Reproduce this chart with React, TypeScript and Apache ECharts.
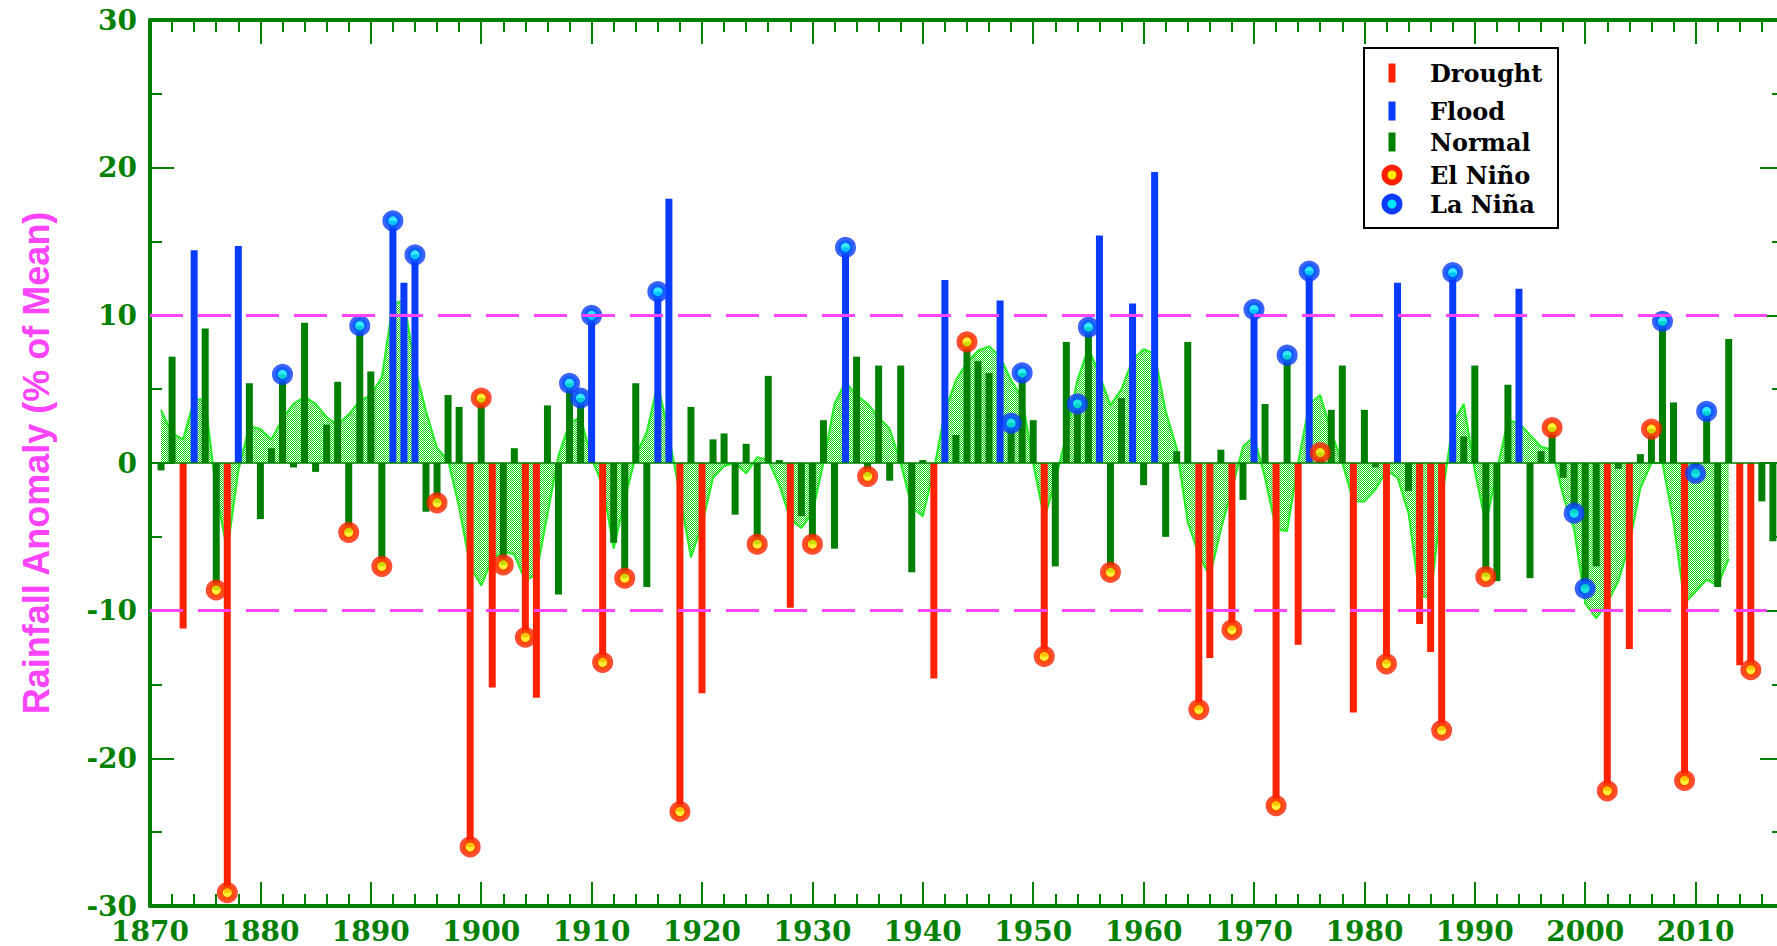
import React, { useEffect, useRef } from "react";
import * as echarts from "echarts";

// All-India summer monsoon rainfall anomaly (% of long-term mean), one value per year from 1871.
const START_YEAR = 1871;
const anomaly = [
  // 1871-1880
  -0.5, 7.2, -11.2, 14.4, 9.1, -8.6, -29.1, 14.7, 5.4, -3.8,
  // 1881-1890
  1.0, 6.0, -0.3, 9.5, -0.6, 2.6, 5.5, -4.7, 9.3, 6.2,
  // 1891-1900
  -7.0, 16.4, 12.2, 14.1, -3.3, -2.7, 4.6, 3.8, -26.0, 4.4,
  // 1901-1910
  -15.2, -6.9, 1.0, -11.8, -15.9, 3.9, -8.9, 5.4, 4.4, 10.0,
  // 1911-1920
  -13.5, -5.4, -7.8, 5.4, -8.4, 11.6, 17.9, -23.6, 3.8, -15.6,
  // 1921-1930
  1.6, 2.0, -3.5, 1.3, -5.5, 5.9, 0.2, -9.8, -3.6, -5.5,
  // 1931-1940
  2.9, -5.8, 14.6, 7.2, -0.9, 6.6, -1.2, 6.6, -7.4, 0.2,
  // 1941-1950
  -14.6, 12.4, 1.9, 8.2, 6.9, 6.1, 11.0, 2.7, 6.1, 2.9,
  // 1951-1960
  -13.1, -7.0, 8.2, 4.0, 9.2, 15.4, -7.4, 4.4, 10.8, -1.5,
  // 1961-1970
  19.7, -5.0, 0.8, 8.2, -16.7, -13.2, 0.9, -11.3, -2.5, 10.4,
  // 1971-1980
  4.0, -23.2, 7.3, -12.3, 13.0, 0.7, 3.6, 6.6, -16.9, 3.6,
  // 1981-1990
  -0.3, -13.6, 12.2, -1.9, -10.9, -12.8, -18.1, 12.9, 1.8, 6.6,
  // 1991-2000
  -7.7, -8.0, 5.3, 11.8, -7.8, 0.8, 2.4, -1.0, -3.4, -8.5,
  // 2001-2010
  -7.0, -22.2, -0.4, -12.6, 0.6, 2.3, 9.6, 4.1, -21.5, -0.7,
  // 2011-2017
  3.5, -8.4, 8.4, -13.7, -14.0, -2.6, -5.3,
];

const droughtYears = [
  1873, 1877, 1899, 1901, 1904, 1905, 1911, 1918, 1920, 1928, 1941, 1951, 1965, 1966,
  1968, 1972, 1974, 1979, 1982, 1985, 1986, 1987, 2002, 2004, 2009, 2014, 2015,
];
const floodYears = [
  1874, 1878, 1892, 1893, 1894, 1910, 1916, 1917, 1933, 1942, 1947, 1956, 1959, 1961,
  1970, 1975, 1983, 1988, 1994,
];
const elNinoYears = [
  1876, 1877, 1888, 1891, 1896, 1899, 1900, 1902, 1904, 1911, 1913, 1918, 1925, 1930,
  1935, 1944, 1951, 1957, 1965, 1968, 1972, 1976, 1982, 1987, 1991, 1997, 2002, 2006,
  2009, 2015,
];
const laNinaYears = [
  1882, 1889, 1892, 1894, 1908, 1909, 1910, 1916, 1933, 1948, 1949, 1954, 1955, 1970,
  1973, 1975, 1988, 1999, 2000, 2007, 2010, 2011,
];

// Low-pass filtered anomaly (shaded curve), 1871-2013.
const SMOOTH_START = 1871;
const smoothed = [
  3.6, 2.0, 1.6, 4.3, 4.3, -2.0, -6.0, -0.5, 2.5, 2.3,
  1.6, 3.0, 4.0, 4.5, 4.0, 3.1, 2.6, 3.3, 4.2, 4.6,
  5.8, 10.8, 11.0, 6.5, 3.5, 1.0, 0.2, -3.0, -7.0, -8.3,
  -6.5, -6.0, -6.2, -8.0, -7.5, -3.5, 0.5, 2.7, 3.1, 0.3,
  -1.5, -5.8, -2.5, 0.5, 2.1, 5.4, 1.9, -2.2, -6.4, -4.2,
  -1.0, -0.2, 0.0, -0.7, 0.4, 0.2, -1.5, -3.8, -4.4, -3.4,
  0.0, 4.0, 5.5, 4.6, 4.0, 3.1, 2.3, 0.0, -3.0, -3.6,
  -0.5, 3.5, 5.6, 6.8, 7.6, 7.9, 7.2, 5.6, 4.4, 0.0,
  -3.8, -1.2, 1.9, 5.6, 7.8, 6.0, 3.9, 5.0, 7.0, 7.7,
  7.4, 3.5, 1.0, -4.0, -6.2, -7.7, -4.5, -1.8, 1.1, 1.8,
  -1.0, -4.5, -4.6, 0.0, 4.0, 4.6, 2.1, 0.0, -2.6, -2.6,
  -1.8, -0.5, -1.0, -3.4, -9.0, -9.1, -2.6, 2.7, 4.0, -0.5,
  -4.2, -0.5, 2.9, 2.7, 1.9, 1.1, 0.9, -2.2, -4.5, -9.5,
  -10.5, -9.5, -8.0, -5.5, -1.7, 0.0, 0.0, -4.0, -9.5, -8.7,
  -7.9, -8.3, -6.5,
];

const thresholds = [10, -10];
const legendLabels = ["Drought", "Flood", "Normal", "El Niño", "La Niña"];
const yAxisTitle = "Rainfall Anomaly (% of Mean)";

const AXIS_GREEN = "#008000";
const DROUGHT_RED = "#ff2200";
const FLOOD_BLUE = "#0a3cff";
const NORMAL_GREEN = "#008000";
const MAGENTA = "#ff44ff";
const NUM_FONT = "DejaVu Serif";

function makeHatch(): HTMLCanvasElement {
  const c = document.createElement("canvas");
  c.width = 2;
  c.height = 2;
  const ctx = c.getContext("2d")!;
  ctx.fillStyle = "#00d000";
  ctx.fillRect(0, 0, 1, 1);
  ctx.fillRect(1, 1, 1, 1);
  return c;
}

export default function App() {
  const ref = useRef<HTMLDivElement>(null);

  useEffect(() => {
    if (!ref.current) return;
    const chart = echarts.init(ref.current, undefined, { renderer: "svg" });

    const years = anomaly.map((_, i) => START_YEAR + i);
    const valueOf = (y: number) => anomaly[y - START_YEAR];
    const isDrought = (y: number) => droughtYears.includes(y);
    const isFlood = (y: number) => floodYears.includes(y);

    const droughtData = years.filter(isDrought).map((y) => [y, valueOf(y)]);
    const floodData = years.filter(isFlood).map((y) => [y, valueOf(y)]);
    const normalData = years
      .filter((y) => !isDrought(y) && !isFlood(y))
      .map((y) => [y, valueOf(y)]);
    const smoothData = smoothed.map((v, i) => [SMOOTH_START + i, v]);
    const elNinoData = elNinoYears.map((y) => [y, valueOf(y)]);
    const laNinaData = laNinaYears.map((y) => [y, valueOf(y)]);

    const tickStyle = { color: AXIS_GREEN, width: 2 };
    const numLabel = {
      color: AXIS_GREEN,
      fontFamily: NUM_FONT,
      fontWeight: "bold" as const,
      fontSize: 28,
      lineHeight: 22,
    };

    const xBase = {
      type: "value" as const,
      min: 1870,
      max: 2020,
      interval: 10,
      splitLine: { show: false },
      axisLine: { show: true, onZero: false, lineStyle: { color: AXIS_GREEN, width: 4 } },
      axisTick: { show: true, inside: true, length: 24, lineStyle: tickStyle },
      minorTick: { show: true, splitNumber: 5, length: 12, lineStyle: tickStyle },
    };
    const yBase = {
      type: "value" as const,
      min: -30,
      max: 30,
      interval: 10,
      splitLine: { show: false },
      axisLine: { show: true, onZero: false, lineStyle: { color: AXIS_GREEN, width: 4 } },
      axisTick: { show: true, inside: true, length: 24, lineStyle: tickStyle },
      minorTick: { show: true, splitNumber: 2, length: 12, lineStyle: tickStyle },
    };

    // Legend drawn as a boxed key in the upper right of the plot.
    const rowY = [73, 111, 142, 175, 204];
    const iconX = 1392;
    const legendGraphics: any[] = [
      {
        type: "rect",
        z: 100,
        shape: { x: 1364, y: 48, width: 194, height: 180 },
        style: { fill: "#ffffff", stroke: "#000000", lineWidth: 2 },
      },
    ];
    [DROUGHT_RED, FLOOD_BLUE, NORMAL_GREEN].forEach((c, i) => {
      legendGraphics.push({
        type: "rect",
        z: 101,
        shape: { x: iconX - 3.5, y: rowY[i] - 9.5, width: 7, height: 19 },
        style: { fill: c },
      });
    });
    [
      ["#ffee00", DROUGHT_RED],
      ["#00e5ff", FLOOD_BLUE],
    ].forEach(([fill, stroke], i) => {
      legendGraphics.push({
        type: "circle",
        z: 101,
        shape: { cx: iconX, cy: rowY[3 + i], r: 7.5 },
        style: { fill, stroke, lineWidth: 6 },
      });
    });
    legendLabels.forEach((t, i) => {
      legendGraphics.push({
        type: "text",
        z: 101,
        x: 1430,
        y: rowY[i],
        style: {
          text: t,
          fill: "#000000",
          font: `bold 24px "${NUM_FONT}"`,
          verticalAlign: "middle",
          align: "left",
        },
      });
    });

    chart.setOption({
      animation: false,
      backgroundColor: "#ffffff",
      grid: { left: 150, right: 4, top: 20, bottom: 40, containLabel: false },
      xAxis: [
        {
          ...xBase,
          position: "bottom",
          axisLabel: {
            ...numLabel,
            margin: 14,
            showMaxLabel: false,
            formatter: (v: number) => String(v),
          },
        },
        { ...xBase, position: "top", axisLabel: { show: false } },
      ],
      yAxis: [
        {
          ...yBase,
          position: "left",
          axisLabel: { ...numLabel, margin: 13 },
          name: yAxisTitle,
          nameLocation: "middle",
          nameGap: 96,
          nameRotate: 90,
          nameTextStyle: {
            color: MAGENTA,
            fontFamily: "Liberation Sans",
            fontWeight: "bold",
            fontSize: 36,
          },
        },
        { ...yBase, position: "right", offset: -22, axisLabel: { show: false } },
      ],
      graphic: legendGraphics,
      series: [
        {
          name: "Smoothed",
          type: "line",
          data: smoothData,
          z: 1,
          symbol: "none",
          lineStyle: { color: "#22f022", width: 2 },
          areaStyle: { color: { image: makeHatch(), repeat: "repeat" }, opacity: 1 },
          silent: true,
        },
        {
          name: "Reference",
          type: "line",
          data: [],
          z: 2,
          markLine: {
            silent: true,
            symbol: ["none", "none"],
            label: { show: false },
            data: [
              ...thresholds.map((v) => ({
                yAxis: v,
                lineStyle: { color: MAGENTA, width: 3, type: [33, 15] },
              })),
              { yAxis: 0, lineStyle: { color: AXIS_GREEN, width: 1.5, type: "solid" } },
            ],
          },
        },
        {
          name: "Normal",
          type: "bar",
          data: normalData,
          z: 3,
          barWidth: 7,
          barGap: "-100%",
          itemStyle: { color: NORMAL_GREEN },
        },
        {
          name: "Drought",
          type: "bar",
          data: droughtData,
          z: 3,
          barWidth: 7,
          barGap: "-100%",
          itemStyle: { color: DROUGHT_RED },
        },
        {
          name: "Flood",
          type: "bar",
          data: floodData,
          z: 3,
          barWidth: 7,
          barGap: "-100%",
          itemStyle: { color: FLOOD_BLUE },
        },
        {
          name: "El Niño",
          type: "scatter",
          data: elNinoData,
          z: 4,
          symbol: "circle",
          symbolSize: 15,
          itemStyle: { color: "#ffee00", borderColor: DROUGHT_RED, borderWidth: 6 },
        },
        {
          name: "La Niña",
          type: "scatter",
          data: laNinaData,
          z: 4,
          symbol: "circle",
          symbolSize: 15,
          itemStyle: { color: "#00e5ff", borderColor: FLOOD_BLUE, borderWidth: 6 },
        },
      ],
    });

    return () => chart.dispose();
  }, []);

  return (
    <div
      style={{
        position: "fixed",
        left: 0,
        top: 0,
        width: 1777,
        height: 946,
        overflow: "hidden",
        background: "#ffffff",
      }}
    >
      <div ref={ref} style={{ width: 1810, height: 946 }} />
    </div>
  );
}
